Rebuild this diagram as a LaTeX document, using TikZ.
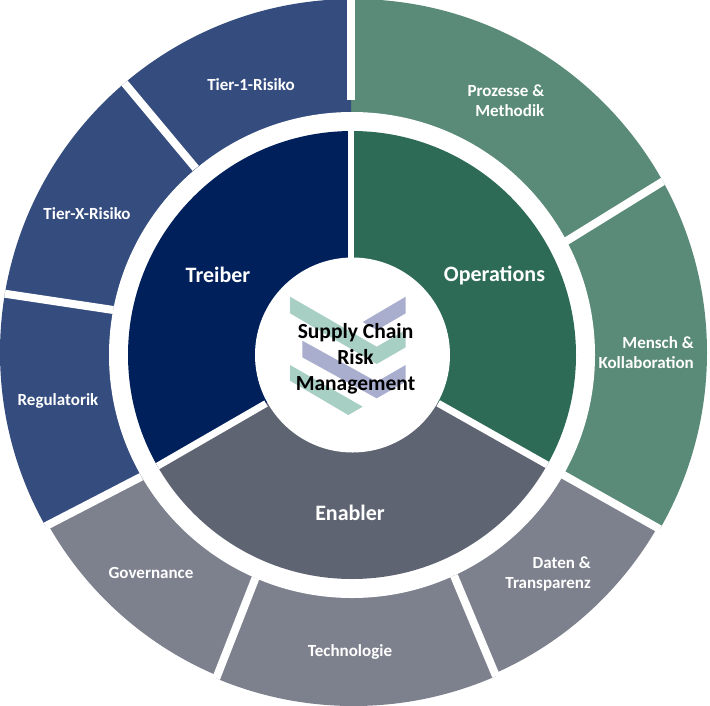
\documentclass[tikz,border=0pt]{standalone}
\usepackage{fontspec}
\setmainfont{Carlito}
\usetikzlibrary{calc}
\definecolor{grnO}{HTML}{5A8A78}
\definecolor{grnI}{HTML}{2D6B56}
\definecolor{navO}{HTML}{344C7E}
\definecolor{navI}{HTML}{00205B}
\definecolor{gryO}{HTML}{7D818D}
\definecolor{gryI}{HTML}{5E6472}
\definecolor{chG}{HTML}{A8CFC4}
\definecolor{chP}{HTML}{A9AECF}
\tikzset{
  small/.style={text=white,font=\fontsize{17}{20}\selectfont\bfseries,inner sep=0pt},
  big/.style={text=white,font=\fontsize{22}{26}\selectfont\bfseries,inner sep=0pt},
  hub/.style={text=black,font=\fontsize{21.5}{26}\selectfont\bfseries,inner sep=0pt},
  sep/.style={white,line width=8pt},
  seq/.style={white,line width=7pt}
}
\begin{document}
\begin{tikzpicture}[x=1pt,y=-1pt]
\useasboundingbox (0,0) rectangle (710,705);
\coordinate (C) at (352,355);
% outer separators
\coordinate (a1) at (351,100);  \coordinate (b1) at (351,-10);
\coordinate (a2) at (566,241.3);  \coordinate (b2) at (660.3,183);
\coordinate (a3) at (563,474.7);  \coordinate (b3) at (658.3,528.3);
\coordinate (a4) at (454,575.7);  \coordinate (b4) at (495,673.7);
\coordinate (a5) at (255.5,578);  \coordinate (b5) at (216.7,677);
\coordinate (a6) at (141.3,476.7);  \coordinate (b6) at (46,526);
\coordinate (a7) at (113.3,310);  \coordinate (b7) at (6.7,294);
\coordinate (a8) at (195.7,168.3);  \coordinate (b8) at (125.3,84);
\begin{scope}
\clip (353.5,352.5) circle (353.5);
\fill[grnO] (C)--(a1)--($(a1)!2!(b1)$)--($(a2)!2!(b2)$)--(a2)--cycle;
\fill[grnO] (C)--(a2)--($(a2)!2!(b2)$)--($(a3)!2!(b3)$)--(a3)--cycle;
\begin{scope}
\clip (353.5,352.5) circle (350.5);
\fill[gryO] (C)--(a3)--($(a3)!2!(b3)$)--($(a4)!2!(b4)$)--(a4)--cycle;
\fill[gryO] (C)--(a5)--($(a5)!2!(b5)$)--($(a6)!2!(b6)$)--(a6)--cycle;
\end{scope}
\fill[gryO] (C)--(a4)--($(a4)!2!(b4)$)--($(a5)!2!(b5)$)--(a5)--cycle;
\fill[navO] (C)--(a6)--($(a6)!2!(b6)$)--($(a7)!2!(b7)$)--(a7)--cycle;
\fill[navO] (C)--(a7)--($(a7)!2!(b7)$)--($(a8)!2!(b8)$)--(a8)--cycle;
\fill[navO] (C)--(a8)--($(a8)!2!(b8)$)--($(a1)!2!(b1)$)--(a1)--cycle;
\foreach \k in {1,...,8}{\draw[sep] (a\k)--($(a\k)!2!(b\k)$);}
\end{scope}
\fill[white] (352,355) circle (243);
% inner pie
\coordinate (p1) at (351,300); \coordinate (q1) at (351,100);
\coordinate (p2) at (438.2,403.3); \coordinate (q2) at (546.2,464.3);
\coordinate (p3) at (266,403.5); \coordinate (q3) at (157.2,466.3);
\begin{scope}
\clip (352,355) circle (224);
\fill[grnI] (C)--(p1)--($(p1)!2!(q1)$)--(700,-100)--(800,700)--($(p2)!2!(q2)$)--(p2)--cycle;
\fill[gryI] (C)--(p2)--($(p2)!2!(q2)$)--(352,900)--($(p3)!2!(q3)$)--(p3)--cycle;
\fill[navI] (C)--(p3)--($(p3)!2!(q3)$)--(-100,700)--(0,-100)--($(p1)!2!(q1)$)--(p1)--cycle;
\draw[seq,line width=6pt] (p1)--($(p1)!2!(q1)$);
\draw[seq] (p2)--($(p2)!2!(q2)$);
\draw[seq] (p3)--($(p3)!2!(q3)$);
\end{scope}
\fill[white] (352.5,355) circle (97.5);
% chevrons
\fill[chG] (290,296.7)--(290,313.3)--(376.7,364)--(405.7,347.3)--(405.7,330)--(376.7,346.7)--cycle;
\fill[chP] (405.7,296.7)--(405.7,313.3)--(377,330)--(362.7,322)--cycle;
\fill[chP] (302.3,340.7)--(302.3,357.3)--(376.7,398.3)--(405.7,381.7)--(405.7,365)--(376.7,381.7)--cycle;
\fill[chG] (290,365)--(290,380.7)--(348.3,415)--(362.7,406.7)--cycle;
% labels
\node[small,align=right,anchor=east] (n1) at (544.5,101) {Prozesse \&\\Methodik};
\node[small,align=right,anchor=east] (n2) at (694,353) {Mensch \&\\Kollaboration};
\node[small,align=right,anchor=east] (n3) at (591,573.5) {Daten \&\\Transparenz};
\node[small] (n4) at (350,652) {Technologie};
\node[small] (n5) at (151,572.5) {Governance};
\node[small] (n6) at (58,400.5) {Regulatorik};
\node[small] (n7) at (87,213.5) {Tier-X-Risiko};
\node[small] (n8) at (251,85) {Tier-1-Risiko};
\node[big] (m1) at (494.5,275) {Operations};
\node[big] (m2) at (350,512.5) {Enabler};
\node[big] (m3) at (218,275) {Treiber};
\node[hub,align=center] (h) at (355.5,359) {Supply Chain\\Risk\\Management};
\end{tikzpicture}
\end{document}
